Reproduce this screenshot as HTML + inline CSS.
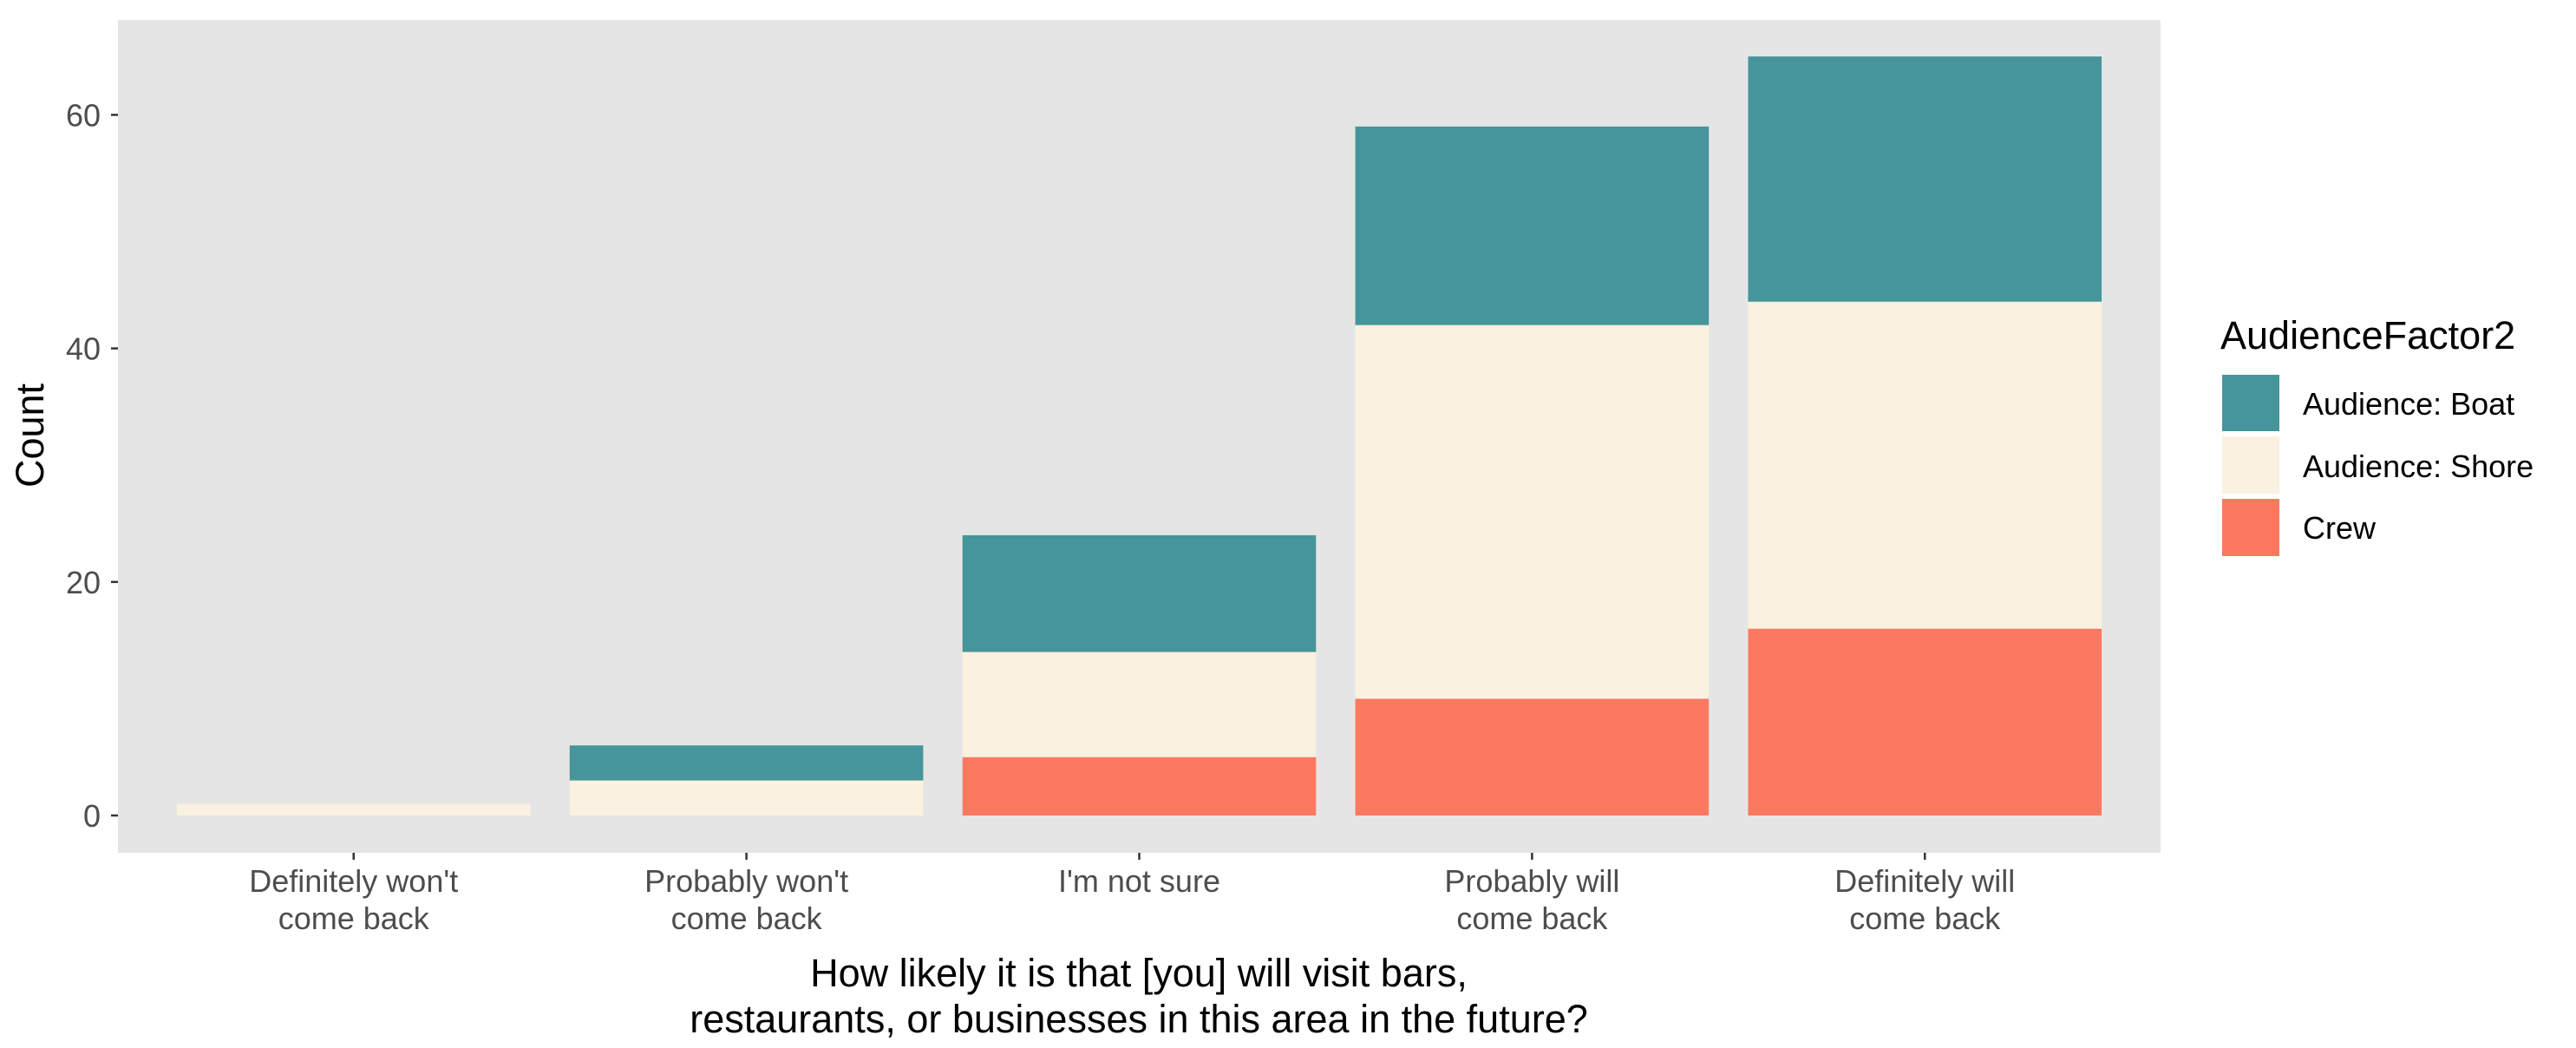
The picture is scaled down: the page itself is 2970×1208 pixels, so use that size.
<!DOCTYPE html>
<html><head><meta charset="utf-8"><style>
html,body{margin:0;padding:0;background:#fff;}
svg{display:block;font-family:"Liberation Sans",Arial,sans-serif;}
</style></head><body>
<svg id="chart" width="2970" height="1208" viewBox="0 0 2970 1208" xmlns="http://www.w3.org/2000/svg">
<rect x="136" y="23" width="2355" height="960" fill="#e5e5e5"/>
<g id="bars"></g>
<g id="yaxis"></g>
<g id="xaxis"></g>
<text transform="translate(50,502) rotate(-90)" text-anchor="middle" font-size="45" fill="#000">Count</text>
<text x="1313" text-anchor="middle" font-size="45" fill="#000"><tspan x="1313" y="1137">How likely it is that [you] will visit bars,</tspan><tspan x="1313" y="1190">restaurants, or businesses in this area in the future?</tspan></text>
<g>
<text x="2560" y="402" font-size="45" fill="#000">AudienceFactor2</text>
<rect x="2562" y="432" width="66" height="65" fill="#45959a"/>
<rect x="2562" y="503" width="66" height="66" fill="#faf1e0"/>
<rect x="2562" y="575" width="66" height="66" fill="#fc795f"/>
<text x="2655" y="478" font-size="36" fill="#000">Audience: Boat</text>
<text x="2655" y="550" font-size="36" fill="#000">Audience: Shore</text>
<text x="2655" y="621" font-size="36" fill="#000">Crew</text>
</g>
</svg>
<script>
const categories = [["Definitely won't","come back"],["Probably won't","come back"],["I'm not sure",""],["Probably will","come back"],["Definitely will","come back"]];
const crew = [0,0,5,10,16];
const shore = [1,3,9,32,28];
const boat = [0,3,10,17,21];
const yTicks = [0,20,40,60];

const NS="http://www.w3.org/2000/svg";
const px0=136, px1=2491, y0=940, perUnit=13.46;
const unit=(px1-px0)/(categories.length+0.2);
const xc=i=>px0+unit*(0.6+i);
const y=v=>y0-v*perUnit;
function mk(tag,attrs,parent){const e=document.createElementNS(NS,tag);for(const k in attrs)e.setAttribute(k,attrs[k]);parent.appendChild(e);return e;}
const bars=document.getElementById('bars');
const series=[["crew",crew,"#fc795f"],["shore",shore,"#faf1e0"],["boat",boat,"#45959a"]];
categories.forEach((c,i)=>{
  let base=0;
  series.forEach(([n,arr,col])=>{
    const v=arr[i]; if(v<=0) return;
    const r=mk('rect',{x:xc(i)-unit*0.45,y:y(base+v),width:unit*0.9,height:y(base)-y(base+v),fill:col},bars);
    
    
    base+=v;
  });
});
const ya=document.getElementById('yaxis');
yTicks.forEach(t=>{
  const l=mk('line',{x1:128,x2:136,y1:y(t),y2:y(t),stroke:'#333','stroke-width':2.5},ya);
  
  
  const tx=mk('text',{x:116,y:y(t)+13,'text-anchor':'end','font-size':36,fill:'#4d4d4d'},ya);
  tx.textContent=t;
  
  
});
const xa=document.getElementById('xaxis');
categories.forEach((c,i)=>{
  const l=mk('line',{x1:xc(i),x2:xc(i),y1:983,y2:991,stroke:'#333','stroke-width':2.5},xa);
  
  
  const tx=mk('text',{'text-anchor':'middle','font-size':36,fill:'#4d4d4d'},xa);
  
  
  c.forEach((line,j)=>{ if(!line) return; const s=mk('tspan',{x:xc(i),y:1028+j*43},tx); s.textContent=line; });
});
</script>
</body></html>
